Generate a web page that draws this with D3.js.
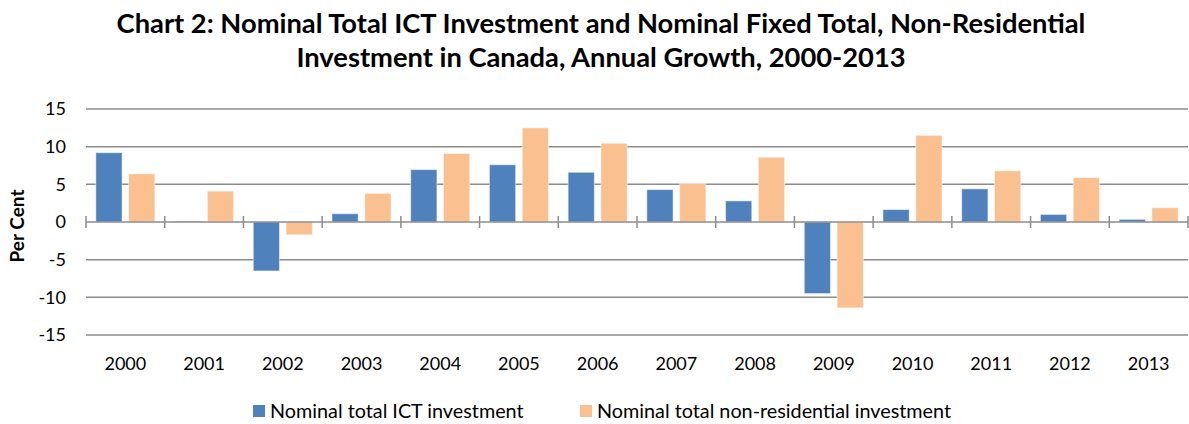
<!DOCTYPE html>
<html>
<head>
<meta charset="utf-8">
<script src="https://cdn.jsdelivr.net/npm/d3@7"></script>
<style>
	body { margin: 0; background: #fff; }
	svg { display: block; font-family: Lato, "Open Sans", sans-serif; }
</style>
</head>
<body>
<svg id="chart" width="1189" height="424"></svg>
<script>
// chart data
var years = ["2000", "2001", "2002", "2003", "2004", "2005", "2006", "2007", "2008", "2009", "2010", "2011", "2012", "2013"];
var ictValues = [9.2, 0.1, -6.5, 1.1, 6.95, 7.6, 6.6, 4.3, 2.8, -9.5, 1.65, 4.4, 1.0, 0.35];
var nonResValues = [6.4, 4.1, -1.7, 3.8, 9.1, 12.5, 10.45, 5.1, 8.6, -11.4, 11.5, 6.8, 5.9, 1.9];
var seriesNames = ["Nominal total ICT investment", "Nominal total non-residential investment"];
var seriesColors = ["#4f81bd", "#fac090"];
var yTicks = [-15, -10, -5, 0, 5, 10, 15];
var titleLines = ["Chart 2: Nominal Total ICT Investment and Nominal Fixed Total, Non-Residential",
	"Investment in Canada, Annual Growth, 2000-2013"];

var svg = d3.select("#chart"),
	margin = {top: 109, right: 1, bottom: 89, left: 86},
	width = 1189 - margin.left - margin.right,
	height = 424 - margin.top - margin.bottom;

var g = svg.append("g").attr("transform", "translate(" + margin.left + "," + margin.top + ")");

var x0 = d3.scaleBand().domain(years).range([0, width]).padding(0);
var x1 = d3.scaleBand().domain([0, 1]).range([0, x0.bandwidth()]).paddingInner(0.2).paddingOuter(0.3);
var y = d3.scaleLinear().domain([-15, 15]).range([height, 0]);

// gridlines
g.append("g")
	.selectAll("line")
	.data(yTicks.filter(function(d) { return d !== 0; }))
	.enter()
	.append("line")
	.attr("x1", 0)
	.attr("x2", width)
	.attr("y1", function(d) { return y(d); })
	.attr("y2", function(d) { return y(d); })
	.attr("stroke", "#8c8c8c")
	.attr("stroke-width", 1.5);

// y axis labels (plain hyphen for negatives)
var yAxis = g.append("g")
	.call(d3.axisLeft(y).tickValues(yTicks).tickSize(0).tickPadding(20)
		.tickFormat(function(d) { return String(d); }));
yAxis.select(".domain").remove();
yAxis.selectAll("text")
	.attr("font-size", 18)
	.attr("font-family", "Lato, sans-serif")
	.attr("fill", "#000");

// bars
var rows = years.map(function(yr, i) { return {year: yr, values: [ictValues[i], nonResValues[i]]}; });

var groups = g.append("g")
	.selectAll("g")
	.data(rows)
	.enter()
	.append("g")
	.attr("transform", function(d) { return "translate(" + x0(d.year) + ",0)"; });

groups.selectAll("rect")
	.data(function(d) { return d.values.map(function(v, k) { return {k: k, v: v}; }); })
	.enter()
	.append("rect")
	.attr("x", function(d) { return x1(d.k); })
	.attr("width", x1.bandwidth())
	.attr("y", function(d) { return y(Math.max(0, d.v)); })
	.attr("height", function(d) { return Math.abs(y(d.v) - y(0)); })
	.attr("fill", function(d) { return seriesColors[d.k]; })
	.attr("stroke", "#fff")
	.attr("stroke-opacity", 0.5)
	.attr("stroke-width", 1);

// zero axis with crossing ticks at category boundaries
var zeroAxis = g.append("g").attr("transform", "translate(0," + y(0) + ")");
zeroAxis.append("line")
	.attr("x1", 0).attr("x2", width)
	.attr("stroke", "#8c8c8c").attr("stroke-width", 1.5);
zeroAxis.selectAll(".tick")
	.data(years.map(function(d) { return x0(d); }).concat([width]))
	.enter()
	.append("line")
	.attr("x1", function(d) { return d; })
	.attr("x2", function(d) { return d; })
	.attr("y1", -6)
	.attr("y2", 6)
	.attr("stroke", "#8c8c8c")
	.attr("stroke-width", 1.5);

// category labels below plot
var xAxis = g.append("g")
	.attr("transform", "translate(0," + height + ")")
	.call(d3.axisBottom(x0).tickSize(0).tickPadding(22));
xAxis.select(".domain").remove();
xAxis.selectAll("text")
	.attr("font-size", 18)
	.attr("font-family", "Lato, sans-serif")
	.attr("fill", "#000");

// y axis title
svg.append("text")
	.attr("transform", "translate(24," + (margin.top + y(0) + 4) + ") rotate(-90)")
	.attr("text-anchor", "middle")
	.attr("font-size", 19)
	.attr("font-weight", "bold")
	.text("Per Cent");

// title
svg.append("g")
	.selectAll("text")
	.data(titleLines)
	.enter()
	.append("text")
	.attr("x", 601)
	.attr("y", function(d, i) { return 33 + i * 34; })
	.attr("text-anchor", "middle")
	.attr("font-size", 27.3)
	.attr("font-weight", "bold")
	.text(function(d) { return d; });

// legend
var legendX = [253, 580];
var legend = svg.append("g")
	.selectAll("g")
	.data(seriesNames)
	.enter()
	.append("g")
	.attr("transform", function(d, i) { return "translate(" + legendX[i] + ",405)"; });
legend.append("rect")
	.attr("width", 12)
	.attr("height", 12)
	.attr("fill", function(d, i) { return seriesColors[i]; });
legend.append("text")
	.attr("x", 17)
	.attr("y", 13)
	.attr("font-size", 19.8)
	.text(function(d) { return d; });
</script>
</body>
</html>
